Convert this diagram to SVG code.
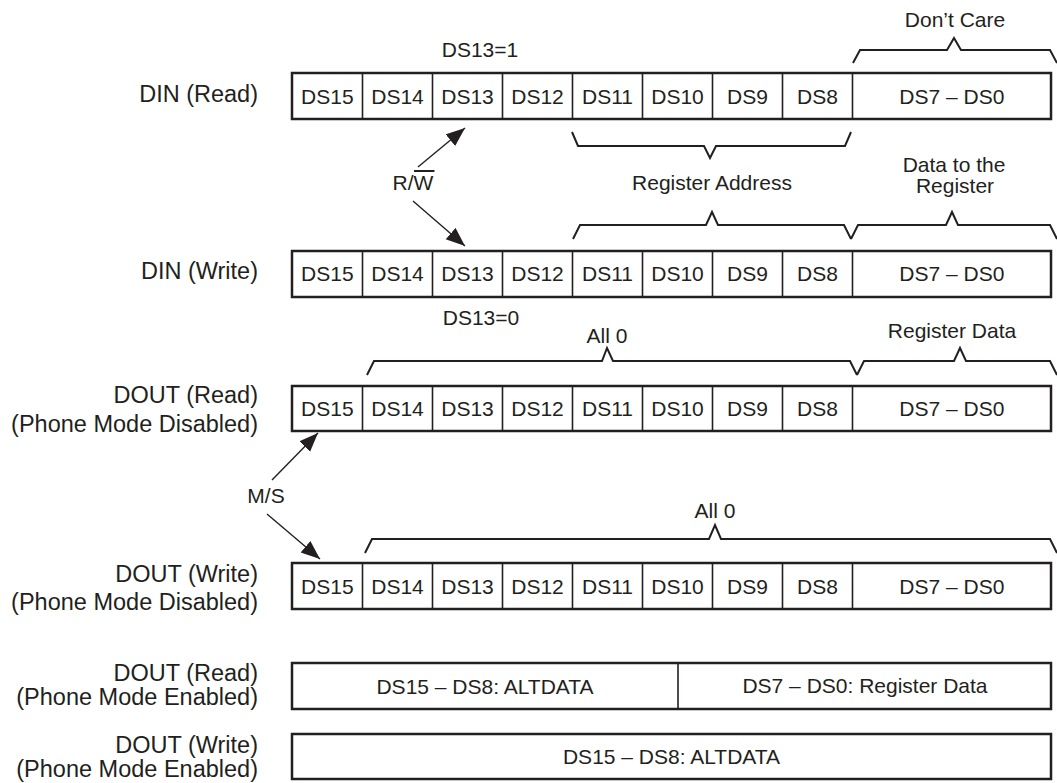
<svg xmlns="http://www.w3.org/2000/svg" width="1057" height="783" viewBox="0 0 1057 783">
<defs>
<style>
text{font-family:"Liberation Sans",Arial,Helvetica,sans-serif;fill:#231f20}
.lbl{font-size:23.5px;text-anchor:end}
.cell{font-size:21px;text-anchor:middle}
.ann{font-size:21px;text-anchor:middle}
.box{fill:#fff;stroke:#231f20;stroke-width:2.5}
.div{stroke:#231f20;stroke-width:1.6}
.brace{fill:none;stroke:#231f20;stroke-width:2;stroke-linejoin:miter}
.arrow{stroke:#231f20;stroke-width:1.4;fill:none;marker-end:url(#ah)}
</style>
<marker id="ah" markerUnits="userSpaceOnUse" markerWidth="20" markerHeight="16" refX="19" refY="7.5" orient="auto">
<path d="M0,0 L19,7.5 L0,15 z" fill="#231f20"/>
</marker>
</defs>
<rect width="1057" height="783" fill="#fff"/>

<g id="row1">
<text class="lbl" x="258" y="102">DIN (Read)</text>
<rect class="box" x="292" y="73" width="759" height="46"/>
<path class="div" d="M362.5,73V119M432.5,73V119M502.5,73V119M572.5,73V119M642.5,73V119M712.5,73V119M782.5,73V119M852.5,73V119"/>
<text class="cell" y="103.5"><tspan x="327.3">DS15</tspan><tspan x="397.5">DS14</tspan><tspan x="467.5">DS13</tspan><tspan x="537.5">DS12</tspan><tspan x="607.5">DS11</tspan><tspan x="677.5">DS10</tspan><tspan x="747.5">DS9</tspan><tspan x="817.5">DS8</tspan><tspan x="951.8">DS7 – DS0</tspan></text>
</g>

<g id="row2">
<text class="lbl" x="258" y="278.5">DIN (Write)</text>
<rect class="box" x="292" y="251" width="759" height="46"/>
<path class="div" d="M362.5,251V297M432.5,251V297M502.5,251V297M572.5,251V297M642.5,251V297M712.5,251V297M782.5,251V297M852.5,251V297"/>
<text class="cell" y="281"><tspan x="327.3">DS15</tspan><tspan x="397.5">DS14</tspan><tspan x="467.5">DS13</tspan><tspan x="537.5">DS12</tspan><tspan x="607.5">DS11</tspan><tspan x="677.5">DS10</tspan><tspan x="747.5">DS9</tspan><tspan x="817.5">DS8</tspan><tspan x="951.8">DS7 – DS0</tspan></text>
</g>

<g id="row3">
<text class="lbl" x="258" y="403">DOUT (Read)</text>
<text class="lbl" x="258" y="431.5">(Phone Mode Disabled)</text>
<rect class="box" x="292" y="386" width="759" height="45"/>
<path class="div" d="M362.5,386V431M432.5,386V431M502.5,386V431M572.5,386V431M642.5,386V431M712.5,386V431M782.5,386V431M852.5,386V431"/>
<text class="cell" y="416"><tspan x="327.3">DS15</tspan><tspan x="397.5">DS14</tspan><tspan x="467.5">DS13</tspan><tspan x="537.5">DS12</tspan><tspan x="607.5">DS11</tspan><tspan x="677.5">DS10</tspan><tspan x="747.5">DS9</tspan><tspan x="817.5">DS8</tspan><tspan x="951.8">DS7 – DS0</tspan></text>
</g>

<g id="row4">
<text class="lbl" x="258" y="581.5">DOUT (Write)</text>
<text class="lbl" x="258" y="609.5">(Phone Mode Disabled)</text>
<rect class="box" x="292" y="563" width="759" height="46"/>
<path class="div" d="M362.5,563V609M432.5,563V609M502.5,563V609M572.5,563V609M642.5,563V609M712.5,563V609M782.5,563V609M852.5,563V609"/>
<text class="cell" y="593.5"><tspan x="327.3">DS15</tspan><tspan x="397.5">DS14</tspan><tspan x="467.5">DS13</tspan><tspan x="537.5">DS12</tspan><tspan x="607.5">DS11</tspan><tspan x="677.5">DS10</tspan><tspan x="747.5">DS9</tspan><tspan x="817.5">DS8</tspan><tspan x="951.8">DS7 – DS0</tspan></text>
</g>

<g id="row5">
<text class="lbl" x="258" y="680.5">DOUT (Read)</text>
<text class="lbl" x="258" y="705">(Phone Mode Enabled)</text>
<rect class="box" x="292" y="663" width="759" height="46"/>
<path class="div" d="M678,663V709"/>
<text class="cell" x="485" y="693.5">DS15 – DS8: ALTDATA</text>
<text class="cell" x="865" y="693">DS7 – DS0: Register Data</text>
</g>

<g id="row6">
<text class="lbl" x="258" y="752.5">DOUT (Write)</text>
<text class="lbl" x="258" y="777">(Phone Mode Enabled)</text>
<rect class="box" x="292" y="734" width="759" height="45"/>
<text class="cell" x="671.5" y="764">DS15 – DS8: ALTDATA</text>
</g>

<g id="annotations">
<text class="ann" x="955" y="27">Don’t Care</text>
<text class="ann" x="480" y="57">DS13=1</text>
<text class="ann" x="712" y="190">Register Address</text>
<text class="ann" x="954" y="172">Data to the</text>
<text class="ann" x="955" y="193">Register</text>
<text class="ann" x="413" y="190">R/W</text>
<line x1="414" y1="171" x2="434.5" y2="171" stroke="#231f20" stroke-width="2"/>
<text class="ann" x="481" y="325">DS13=0</text>
<text class="ann" x="607" y="343">All 0</text>
<text class="ann" x="952" y="338">Register Data</text>
<text class="ann" x="266" y="503">M/S</text>
<text class="ann" x="715" y="518">All 0</text>
</g>

<g id="connectors">
<path class="brace" d="M853,63 L860,50 L947,50 L954,38 L961,50 L1050,50 L1057,63"/>
<path class="brace" d="M572,132 L578,146 L704,146 L710,158 L716,146 L845,146 L851,132"/>
<path class="brace" d="M573,239 L580,225 L706,225 L712,212 L718,225 L844,225 L851,239"/>
<path class="brace" d="M851,239 L858,225 L946,225 L952,212 L958,225 L1050,225 L1057,239"/>
<path class="brace" d="M367,375 L374,361 L602,361 L607,348 L613,361 L850,361 L857,375"/>
<path class="brace" d="M857,375 L864,361 L954,361 L960,348 L966,361 L1050,361 L1057,375"/>
<path class="brace" d="M365,553 L372,539 L709,539 L715,525 L721,539 L1050,539 L1057,553"/>
<line class="arrow" x1="418" y1="167" x2="465" y2="128"/>
<line class="arrow" x1="413" y1="201" x2="465" y2="246"/>
<line class="arrow" x1="272" y1="480" x2="318" y2="433"/>
<line class="arrow" x1="267" y1="514" x2="320" y2="559"/>
</g>
</svg>
